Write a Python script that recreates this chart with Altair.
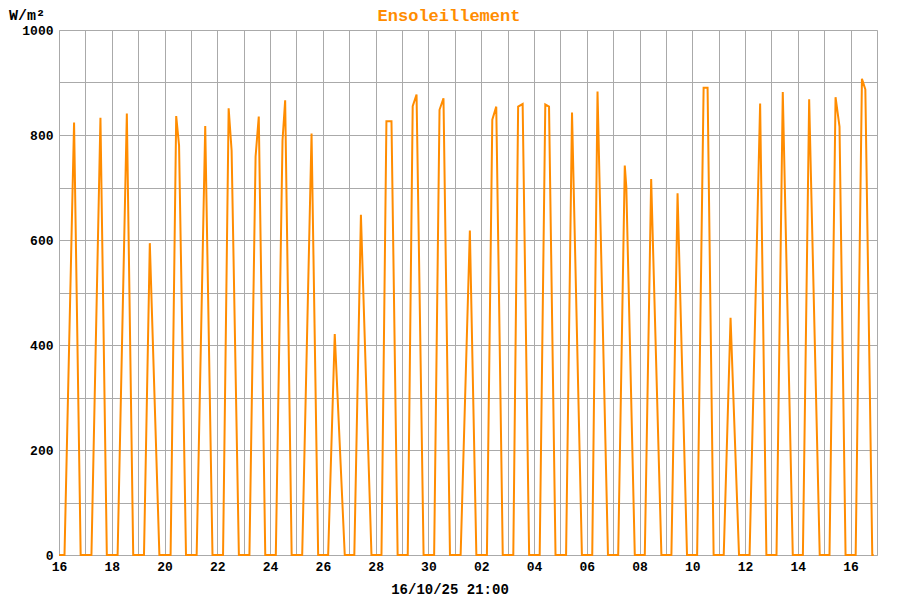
import altair as alt
import pandas as pd

# ---- data ----
first_day = "2025-09-16"
n_days = 31
last_time = "2025-10-16 21:00"

chart_title = "Ensoleillement"
unit_label = "W/m²"
x_title = "16/10/25 21:00"

# per day: vertices (hour of day, W/m2)
day_profiles = [
    [(5.0, 0), (13.7, 824), (19.7, 0)],                    # 16 Sep
    [(5.5, 0), (13.7, 833), (19.5, 0)],                    # 17
    [(5.3, 0), (13.7, 841), (19.5, 0)],                    # 18
    [(5.3, 0), (10.6, 594), (19.3, 0)],                    # 19
    [(5.5, 0), (10.6, 836), (13.2, 780), (19.5, 0)],       # 20
    [(5.2, 0), (13.0, 817), (19.6, 0)],                    # 21
    [(5.2, 0), (10.3, 851), (13.0, 770), (19.6, 0)],       # 22
    [(5.2, 0), (10.8, 759), (13.7, 835), (19.6, 0)],       # 23
    [(5.2, 0), (11.3, 790), (13.7, 866), (19.6, 0)],       # 24
    [(5.2, 0), (13.7, 803), (19.7, 0)],                    # 25
    [(4.8, 0), (10.8, 421), (19.9, 0)],                    # 26
    [(4.6, 0), (10.6, 648), (20.2, 0)],                    # 27
    [(5.3, 0), (9.8, 826), (14.4, 826), (20.0, 0)],        # 28
    [(5.2, 0), (9.7, 855), (13.2, 877), (19.6, 0)],        # 29
    [(5.2, 0), (10.1, 848), (13.7, 870), (19.6, 0)],       # 30
    [(5.3, 0), (13.7, 618), (19.6, 0)],                    # 01 Oct
    [(5.2, 0), (10.1, 829), (13.7, 854), (19.6, 0)],       # 02
    [(5.2, 0), (9.6, 854), (13.7, 859), (19.6, 0)],        # 03
    [(5.2, 0), (10.3, 858), (13.7, 854), (19.6, 0)],       # 04
    [(5.2, 0), (10.6, 843), (19.6, 0)],                    # 05
    [(5.0, 0), (9.8, 883), (19.3, 0)],                     # 06
    [(4.6, 0), (10.6, 742), (12.0, 701), (19.7, 0)],       # 07
    [(4.8, 0), (10.6, 716), (19.9, 0)],                    # 08
    [(5.0, 0), (10.6, 689), (19.2, 0)],                    # 09
    [(4.4, 0), (10.3, 890), (13.9, 890), (19.4, 0)],       # 10
    [(4.6, 0), (10.8, 452), (18.5, 0)],                    # 11
    [(4.1, 0), (13.7, 860), (19.4, 0)],                    # 12
    [(4.6, 0), (10.3, 882), (19.4, 0)],                    # 13
    [(4.6, 0), (10.3, 868), (19.9, 0)],                    # 14
    [(4.8, 0), (10.3, 872), (13.9, 816), (19.4, 0)],       # 15
    [(4.6, 0), (10.3, 907), (13.4, 887), (19.7, 0)],       # 16
]

y_ticks = [0, 100, 200, 300, 400, 500, 600, 700, 800, 900, 1000]

# ---- build table ----
rows = [{"t": pd.Timestamp(first_day), "v": 0}]
base = pd.Timestamp(first_day)
for i, prof in enumerate(day_profiles):
    for h, v in prof:
        rows.append({"t": base + pd.Timedelta(days=i, hours=h), "v": v})
rows.append({"t": pd.Timestamp(last_time), "v": 0})
df = pd.DataFrame(rows)
df["t"] = df["t"].dt.strftime("%Y-%m-%dT%H:%M:%S")

day_values = [
    alt.DateTime(year=d.year, month=d.month, date=d.day)
    for d in pd.date_range(first_day, periods=n_days + 1, freq="D")
]
d0 = pd.Timestamp(first_day)
d1 = d0 + pd.Timedelta(days=n_days)

FONT = "Liberation Mono"
ORANGE = "#ff8c00"
GRID = "#aaaaaa"

line = (
    alt.Chart(df)
    .mark_line(color=ORANGE, strokeWidth=2, interpolate="linear")
    .encode(
        x=alt.X(
            "t:T",
            scale=alt.Scale(
                domain=[
                    alt.DateTime(year=d0.year, month=d0.month, date=d0.day),
                    alt.DateTime(year=d1.year, month=d1.month, date=d1.day),
                ],
                nice=False,
            ),
            axis=alt.Axis(
                values=day_values,
                labelExpr="date(datum.value) % 2 == 0 ? timeFormat(datum.value, '%d') : ''",
                grid=True,
                gridColor=GRID,
                gridWidth=1,
                ticks=False,
                domainColor=GRID,
                labelFont=FONT,
                labelFontWeight="bold",
                labelFontSize=13,
                labelColor="#000",
                labelPadding=5,
                labelFlush=False,
                labelOverlap=False,
                title=None,
            ),
        ),
        y=alt.Y(
            "v:Q",
            scale=alt.Scale(domain=[0, 1000], nice=False),
            axis=alt.Axis(
                values=y_ticks,
                format="d",
                labelExpr="datum.value % 200 == 0 ? datum.label : ''",
                grid=True,
                gridColor=GRID,
                gridWidth=1,
                ticks=False,
                domainColor=GRID,
                labelFont=FONT,
                labelFontWeight="bold",
                labelFontSize=13,
                labelColor="#000",
                labelPadding=6,
                labelOverlap=False,
                title=None,
            ),
        ),
    )
)

one = pd.DataFrame({"k": [0]})
title_txt = alt.Chart(one).mark_text(
    text=chart_title, font=FONT, fontWeight="bold", fontSize=17, color=ORANGE,
    align="center", baseline="alphabetic",
).encode(x=alt.value(390), y=alt.value(-9))
unit_txt = alt.Chart(one).mark_text(
    text=unit_label, font=FONT, fontWeight="bold", fontSize=15, color="#000",
    align="left", baseline="alphabetic",
).encode(x=alt.value(-50), y=alt.value(-10))
xtitle_txt = alt.Chart(one).mark_text(
    text=x_title, font=FONT, fontWeight="bold", fontSize=14, color="#000",
    align="center", baseline="alphabetic",
).encode(x=alt.value(391), y=alt.value(564))

chart = (
    alt.layer(line, title_txt, unit_txt, xtitle_txt)
    .properties(
        width=818,
        height=525,
        autosize=alt.AutoSizeParams(type="none"),
        padding={"left": 51, "top": 22, "right": 15, "bottom": 50},
    )
    .configure_view(stroke=GRID, strokeWidth=1)
    .configure(background="white")
)

chart.save("out.html", embed_options={"renderer": "svg", "actions": False})
